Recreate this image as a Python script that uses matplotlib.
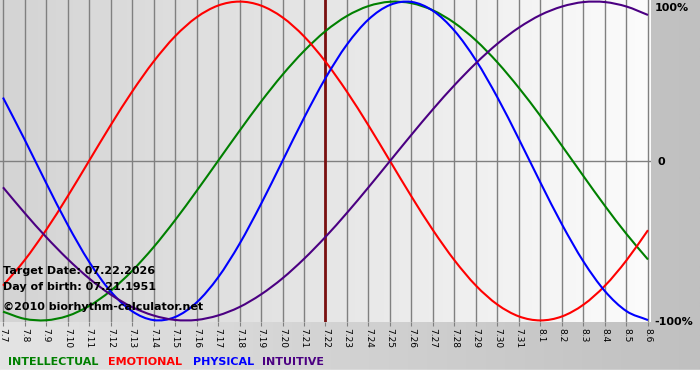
import numpy as np
from matplotlib import pyplot as plt
from matplotlib.colors import LinearSegmentedColormap
from matplotlib.path import Path
from matplotlib.patches import PathPatch

# days shown (month.day)
days = ['7.7', '7.8', '7.9', '7.10', '7.11', '7.12', '7.13', '7.14', '7.15', '7.16',
        '7.17', '7.18', '7.19', '7.20', '7.21', '7.22', '7.23', '7.24', '7.25', '7.26',
        '7.27', '7.28', '7.29', '7.30', '7.31', '8.1', '8.2', '8.3', '8.4', '8.5', '8.6']

intellectual = [-0.945, -0.990, -0.999, -0.972, -0.910, -0.815, -0.690, -0.541, -0.372, -0.189,
                0.000, 0.189, 0.372, 0.541, 0.690, 0.815, 0.910, 0.972, 0.999, 0.990,
                0.945, 0.866, 0.756, 0.618, 0.458, 0.282, 0.095, -0.095, -0.282, -0.458, -0.618]
emotional = [-0.782, -0.623, -0.434, -0.223, 0.000, 0.223, 0.434, 0.623, 0.782, 0.901,
             0.975, 1.000, 0.975, 0.901, 0.782, 0.623, 0.434, 0.223, 0.000, -0.223,
             -0.434, -0.623, -0.782, -0.901, -0.975, -1.000, -0.975, -0.901, -0.782, -0.623, -0.434]
physical = [0.398, 0.136, -0.136, -0.398, -0.631, -0.817, -0.942, -0.998, -0.979, -0.888,
            -0.731, -0.520, -0.270, 0.000, 0.270, 0.520, 0.731, 0.888, 0.979, 0.998,
            0.942, 0.817, 0.631, 0.398, 0.136, -0.136, -0.398, -0.631, -0.817, -0.942, -0.998]
intuitive = [-0.165, -0.325, -0.476, -0.614, -0.736, -0.837, -0.916, -0.969, -0.997, -0.997,
             -0.969, -0.916, -0.837, -0.736, -0.614, -0.476, -0.325, -0.165, 0.000, 0.165,
             0.325, 0.476, 0.614, 0.736, 0.837, 0.916, 0.969, 0.997, 0.997, 0.969, 0.916]

target_day = '7.22'
series = [('INTELLECTUAL', intellectual, '#008000'),
          ('EMOTIONAL', emotional, '#ff0000'),
          ('PHYSICAL', physical, '#0000ff'),
          ('INTUITIVE', intuitive, '#4b0082')]


def smooth_path(xs, ys):
    # catmull-rom style bezier through the points (only changes how the line is drawn)
    pts = np.column_stack([xs, ys]).astype(float)
    ext = np.vstack([2 * pts[0] - pts[1], pts, 2 * pts[-1] - pts[-2]])
    verts = [pts[0]]
    codes = [Path.MOVETO]
    for i in range(1, len(ext) - 2):
        p0, p1, p2, p3 = ext[i - 1], ext[i], ext[i + 1], ext[i + 2]
        verts += [p1 + (p2 - p0) / 6, p2 - (p3 - p1) / 6, p2]
        codes += [Path.CURVE4] * 3
    return Path(verts, codes)


W, H = 700, 380
fig = plt.figure(figsize=(7, 3.8), dpi=100)

# grey gradient behind everything
bg = fig.add_axes([0, 0, 1, 1], zorder=-10)
bg.imshow(np.linspace(0, 1, 256).reshape(1, -1), aspect='auto', extent=[0, 1, 0, 1],
          cmap=LinearSegmentedColormap.from_list('fbg', ['#e4e4e4', '#c0c0c0']))
bg.axhspan(0, 10 / H, color='white')
bg.set_xlim(0, 1)
bg.set_ylim(0, 1)
bg.axis('off')

x = np.arange(len(days))
ax = fig.add_axes([0, 1 - 322 / H, 651 / W, 322 / H])
ax.imshow(np.linspace(0, 1, 256).reshape(1, -1), aspect='auto',
          extent=[-0.14, 30.14, -1.01, 1.01], zorder=0,
          cmap=LinearSegmentedColormap.from_list('pbg', ['#d4d4d4', '#e6e6e6', '#fcfcfc']))

for xi in x:
    ax.axvline(xi, color='#808080', lw=1.0, zorder=1)
ax.axhline(0, color='#808080', lw=1.0, zorder=1)
ax.axvline(days.index(target_day), color='#7a1010', lw=2.0, zorder=2)

for name, vals, col in series:
    ax.add_patch(PathPatch(smooth_path(x, vals), fill=False, edgecolor=col, lw=1.5, zorder=3))

ax.set_xlim(-0.14, 30.14)
ax.set_ylim(-1.01, 1.01)
ax.set_xticks(x)
ax.set_xticklabels(days, rotation=270, fontsize=6.5, family='DejaVu Sans')
ax.tick_params(axis='x', length=3, width=0.8, color='#808080', pad=1)
ax.set_yticks([])
for s in ax.spines.values():
    s.set_visible(False)

# right side scale labels
fig.text(655 / W, 1 - 8 / H, '100%', fontsize=8, fontweight='bold', va='center', ha='left')
fig.text(658 / W, 1 - 162 / H, '0', fontsize=8, fontweight='bold', va='center', ha='left')
fig.text(654 / W, 1 - 322 / H, '-100%', fontsize=8, fontweight='bold', va='center', ha='left')

# info text
fig.text(3 / W, 1 - 271 / H, 'Target Date: 07.22.2026', fontsize=8, fontweight='bold', va='center')
fig.text(3 / W, 1 - 287 / H, 'Day of birth: 07.21.1951', fontsize=8, fontweight='bold', va='center')
fig.text(3 / W, 1 - 307 / H, '\u00a92010 biorhythm-calculator.net', fontsize=8, fontweight='bold', va='center')

# legend
xpos = [8, 108, 193, 262]
for (name, vals, col), xp in zip(series, xpos):
    fig.text(xp / W, 1 - 362 / H, name, color=col, fontsize=8, fontweight='bold', va='center')

plt.savefig('out.png', dpi=100)
